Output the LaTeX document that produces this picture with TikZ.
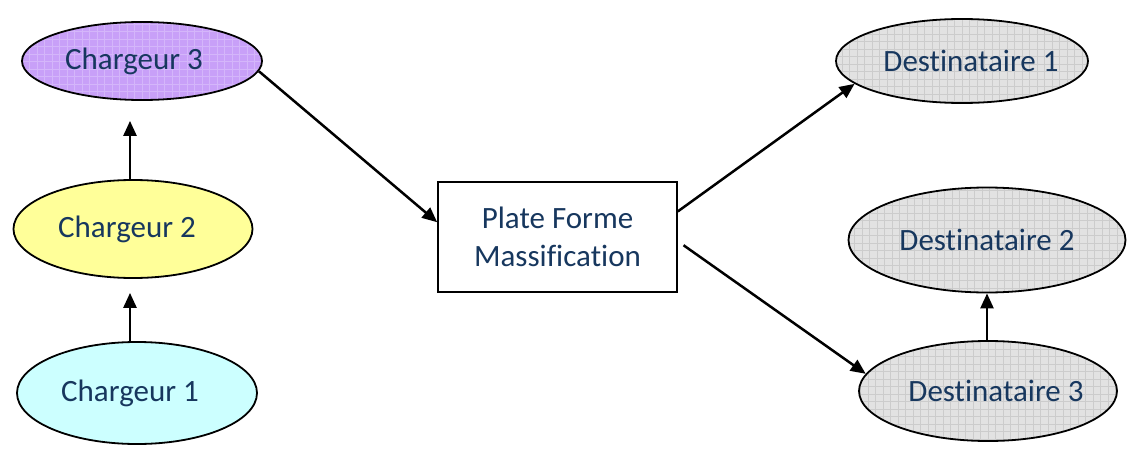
\documentclass[tikz,border=0pt]{standalone}
\usepackage{fontspec}
\setmainfont[Ligatures={NoCommon}]{Carlito}
\usetikzlibrary{shapes.geometric,arrows.meta}
\definecolor{txtblue}{RGB}{23,55,94}
\definecolor{lilac}{RGB}{200,160,248}
\definecolor{lemon}{RGB}{255,255,153}
\definecolor{ice}{RGB}{204,255,255}
\definecolor{greyfill}{RGB}{226,226,226}
\definecolor{greygrid}{RGB}{204,204,204}
\definecolor{lilacgrid}{RGB}{212,182,250}
% label set off-centre by #1 without changing the node's size
\newcommand\offlabel[2]{\kern#1\makebox[0pt]{#2}\kern-#1}
\tikzset{
  oval/.style={ellipse, draw=black, line width=1.8pt, inner sep=0pt,
    font=\fontsize{31}{36}\selectfont, text=txtblue},
  gridded/.style={path picture={
    \draw[#1, line width=0.5pt, step=7.5pt]
      (path picture bounding box.south west) grid (path picture bounding box.north east);}},
  platform/.style={rectangle, draw=black, line width=1.6pt, minimum width=239pt,
    minimum height=110pt, align=center, text=txtblue,
    font=\fontsize{31}{38}\selectfont},
  link/.style={line width=2.5pt, -{Triangle[length=15pt,width=13pt]}}
}
\begin{document}
\begin{tikzpicture}[x=1pt,y=-1pt]
\useasboundingbox (0,0) rectangle (1129,452);
% shippers
\node[oval, fill=lilac, gridded=lilacgrid, minimum width=240pt, minimum height=78pt] (c3) at (142,61) {\offlabel{-8pt}{Chargeur 3}};
\node[oval, fill=lemon, minimum width=239pt, minimum height=98pt] (c2) at (133,229) {\offlabel{-6pt}{Chargeur 2}};
\node[oval, fill=ice, minimum width=240pt, minimum height=102pt] (c1) at (137,393) {\offlabel{-7pt}{Chargeur 1}};
% consolidation platform
\node[platform] (pf) at (557.5,237) {Plate Forme\\Massification};
% recipients
\node[oval, fill=greyfill, gridded=greygrid, minimum width=252pt, minimum height=84pt] (d1) at (962,61) {\offlabel{9pt}{Destinataire 1}};
\node[oval, fill=greyfill, gridded=greygrid, minimum width=277pt, minimum height=105pt] (d2) at (987,240) {Destinataire 2};
\node[oval, fill=greyfill, gridded=greygrid, minimum width=258pt, minimum height=100pt] (d3) at (988,391) {\offlabel{8pt}{Destinataire 3}};
% flows
\draw[link, shorten >=14pt] ([xshift=-7pt]c1.north) -- ([xshift=-3pt]c2.south);
\draw[link, shorten >=20pt] ([xshift=-3pt]c2.north) -- ([xshift=-12pt]c3.south);
\draw[link] (c3.-5) -- (pf.173);
\draw[link] (pf.12) -- (d1.-168);
\draw[link, shorten <=7pt] (pf.-2) -- (d3.172);
\draw[link] (d3.north -| d2.south) -- (d2.south);
\end{tikzpicture}
\end{document}
